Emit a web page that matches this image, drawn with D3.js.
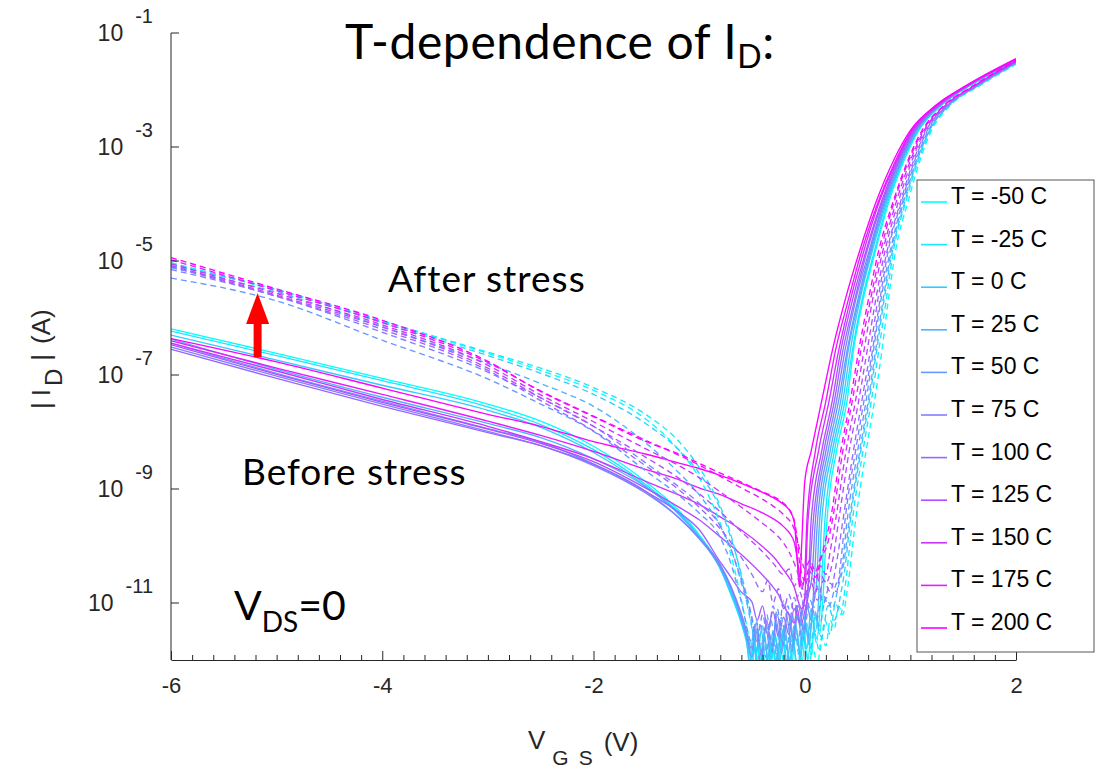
<!DOCTYPE html>
<html>
<head>
<meta charset="utf-8">
<script src="https://cdn.jsdelivr.net/npm/d3@7"></script>
<style>
  body { margin: 0; background: #fff; }
  svg { display: block; }
</style>
</head>
<body>
<svg id="chart" width="1101" height="769"></svg>
<script>
// temperatures (legend order), colours run cyan -> magenta
const temps = [-50, -25, 0, 25, 50, 75, 100, 125, 150, 175, 200];

// each curve: [VGS (V), log10 |ID| (A)]
// before stress (solid)
const beforeM50 = [[-6,-6.19],[-5,-6.62],[-4,-7.06],[-3,-7.51],[-2.5,-7.81],[-2,-8.25],[-1.5,-8.88],[-1.2,-9.36],[-1,-9.80],[-0.8,-10.37],[-0.7,-10.81],[-0.6,-11.30],[-0.55,-11.62],[-0.5,-12.05],[-0.47,-11.70],[-0.43,-12.30],[-0.38,-11.65],[-0.33,-12.20],[-0.28,-11.55],[-0.23,-12.25],[-0.18,-11.75],[-0.13,-12.15],[-0.08,-11.45],[-0.03,-12.10],[0.02,-11.35],[0.06,-11.90],[0.10,-11.20],[0.14,-11.55],[0.17,-10.98],[0.21,-9.57],[0.30,-8.34],[0.40,-7.46],[0.46,-6.58],[0.55,-5.70],[0.67,-4.82],[0.80,-3.94],[0.94,-3.24],[1.08,-2.71],[1.29,-2.27],[1.57,-1.92],[2,-1.50]];
const beforeM25 = [[-6,-6.23],[-5,-6.66],[-4,-7.10],[-3,-7.56],[-2.5,-7.87],[-2,-8.31],[-1.5,-8.93],[-1.2,-9.40],[-1,-9.83],[-0.8,-10.40],[-0.7,-10.85],[-0.6,-11.36],[-0.55,-11.70],[-0.51,-12.10],[-0.48,-11.60],[-0.44,-12.25],[-0.40,-11.80],[-0.36,-12.35],[-0.31,-11.70],[-0.26,-12.15],[-0.21,-11.50],[-0.16,-12.20],[-0.11,-11.65],[-0.06,-12.30],[-0.01,-11.60],[0.03,-12.00],[0.07,-11.30],[0.11,-11.70],[0.15,-10.98],[0.19,-9.57],[0.28,-8.34],[0.38,-7.46],[0.45,-6.58],[0.54,-5.70],[0.66,-4.82],[0.79,-3.94],[0.93,-3.24],[1.07,-2.71],[1.29,-2.27],[1.56,-1.92],[2,-1.50]];
const before0 = [[-6,-6.30],[-5,-6.74],[-4,-7.18],[-3,-7.62],[-2.5,-7.92],[-2,-8.36],[-1.5,-8.96],[-1.2,-9.42],[-1,-9.84],[-0.8,-10.40],[-0.7,-10.82],[-0.6,-11.32],[-0.55,-11.68],[-0.52,-12.10],[-0.49,-11.55],[-0.45,-12.20],[-0.41,-11.70],[-0.37,-12.30],[-0.32,-11.60],[-0.27,-12.10],[-0.22,-11.45],[-0.17,-12.05],[-0.12,-11.50],[-0.07,-12.20],[-0.02,-11.40],[0.02,-11.80],[0.06,-11.10],[0.10,-11.50],[0.13,-10.98],[0.16,-9.57],[0.26,-8.34],[0.36,-7.46],[0.43,-6.58],[0.52,-5.70],[0.64,-4.82],[0.78,-3.94],[0.92,-3.24],[1.07,-2.71],[1.28,-2.27],[1.56,-1.92],[2,-1.49]];
const before25 = [[-6,-6.37],[-5,-6.90],[-4,-7.39],[-3,-7.85],[-2.5,-8.10],[-2,-8.47],[-1.5,-8.97],[-1.2,-9.43],[-1,-9.84],[-0.8,-10.33],[-0.7,-10.72],[-0.6,-11.25],[-0.55,-11.55],[-0.5,-11.95],[-0.46,-11.50],[-0.42,-12.15],[-0.38,-11.55],[-0.34,-12.25],[-0.29,-11.50],[-0.24,-12.05],[-0.19,-11.40],[-0.14,-12.10],[-0.09,-11.35],[-0.04,-11.95],[0.00,-11.30],[0.04,-11.70],[0.08,-11.00],[0.11,-10.70],[0.14,-9.57],[0.24,-8.34],[0.34,-7.46],[0.41,-6.58],[0.51,-5.70],[0.63,-4.82],[0.77,-3.94],[0.92,-3.24],[1.06,-2.71],[1.28,-2.27],[1.56,-1.92],[2,-1.49]];
const before50 = [[-6,-6.44],[-5,-6.97],[-4,-7.46],[-3,-7.94],[-2.5,-8.18],[-2,-8.56],[-1.5,-9.05],[-1.2,-9.49],[-1,-9.87],[-0.8,-10.37],[-0.7,-10.75],[-0.6,-11.28],[-0.55,-11.60],[-0.5,-11.95],[-0.46,-11.45],[-0.42,-12.10],[-0.37,-11.40],[-0.32,-11.95],[-0.27,-11.30],[-0.22,-11.90],[-0.17,-11.25],[-0.12,-11.85],[-0.07,-11.20],[-0.02,-11.70],[0.02,-11.05],[0.06,-11.30],[0.09,-10.60],[0.12,-9.57],[0.22,-8.34],[0.32,-7.46],[0.40,-6.58],[0.50,-5.70],[0.62,-4.82],[0.76,-3.94],[0.91,-3.24],[1.05,-2.71],[1.28,-2.27],[1.55,-1.92],[2,-1.48]];
const before75 = [[-6,-6.51],[-5,-7.02],[-4,-7.51],[-3,-7.99],[-2.5,-8.24],[-2,-8.59],[-1.5,-9.08],[-1.2,-9.49],[-1,-9.86],[-0.8,-10.33],[-0.7,-10.70],[-0.6,-11.19],[-0.55,-11.50],[-0.5,-11.83],[-0.46,-11.35],[-0.41,-11.95],[-0.36,-11.30],[-0.31,-11.85],[-0.26,-11.20],[-0.21,-11.75],[-0.16,-11.15],[-0.11,-11.65],[-0.06,-11.05],[-0.01,-11.45],[0.03,-10.90],[0.07,-10.50],[0.10,-9.57],[0.20,-8.34],[0.30,-7.46],[0.38,-6.58],[0.48,-5.70],[0.61,-4.82],[0.75,-3.94],[0.90,-3.24],[1.05,-2.71],[1.27,-2.27],[1.55,-1.92],[2,-1.48]];
const before100 = [[-6,-6.55],[-5,-7.06],[-4,-7.55],[-3,-8.01],[-2.5,-8.24],[-2,-8.57],[-1.5,-9.05],[-1.2,-9.40],[-1,-9.71],[-0.8,-10.28],[-0.7,-10.54],[-0.6,-10.81],[-0.5,-10.98],[-0.45,-11.30],[-0.4,-11.05],[-0.35,-11.45],[-0.3,-11.15],[-0.25,-11.60],[-0.2,-11.25],[-0.15,-11.55],[-0.1,-11.10],[-0.05,-11.35],[0,-10.95],[0.04,-10.60],[0.08,-9.57],[0.18,-8.34],[0.28,-7.46],[0.36,-6.58],[0.47,-5.70],[0.59,-4.82],[0.74,-3.94],[0.89,-3.24],[1.04,-2.71],[1.27,-2.27],[1.55,-1.92],[2,-1.48]];
const before125 = [[-6,-6.47],[-5,-6.99],[-4,-7.48],[-3,-7.95],[-2.5,-8.20],[-2,-8.52],[-1.5,-8.99],[-1.2,-9.31],[-1,-9.54],[-0.8,-9.84],[-0.6,-10.15],[-0.4,-10.51],[-0.3,-10.72],[-0.25,-10.85],[-0.2,-11.05],[-0.15,-11.20],[-0.1,-11.35],[-0.07,-11.10],[-0.04,-11.40],[0,-11.15],[0.03,-10.80],[0.06,-9.57],[0.16,-8.34],[0.26,-7.46],[0.34,-6.58],[0.45,-5.70],[0.58,-4.82],[0.73,-3.94],[0.88,-3.24],[1.03,-2.71],[1.26,-2.27],[1.54,-1.92],[2,-1.47]];
const before150 = [[-6,-6.44],[-5,-6.93],[-4,-7.43],[-3,-7.90],[-2.5,-8.17],[-2,-8.47],[-1.5,-8.87],[-1.2,-9.10],[-1,-9.27],[-0.8,-9.49],[-0.6,-9.72],[-0.4,-10.01],[-0.3,-10.18],[-0.2,-10.42],[-0.15,-10.55],[-0.1,-10.72],[-0.06,-10.98],[-0.03,-11.10],[0,-10.90],[0.03,-9.57],[0.13,-8.34],[0.23,-7.46],[0.32,-6.58],[0.43,-5.70],[0.56,-4.82],[0.71,-3.94],[0.87,-3.24],[1.02,-2.71],[1.25,-2.27],[1.54,-1.92],[2,-1.47]];
const before175 = [[-6,-6.40],[-5,-6.88],[-4,-7.34],[-3,-7.81],[-2.5,-8.06],[-2,-8.34],[-1.5,-8.66],[-1.2,-8.83],[-1,-8.98],[-0.8,-9.10],[-0.6,-9.26],[-0.4,-9.42],[-0.3,-9.52],[-0.2,-9.66],[-0.1,-9.93],[-0.06,-10.37],[-0.03,-10.75],[0,-10.50],[0.02,-9.57],[0.10,-8.34],[0.20,-7.46],[0.29,-6.58],[0.41,-5.70],[0.54,-4.82],[0.70,-3.94],[0.86,-3.24],[1.01,-2.71],[1.25,-2.27],[1.54,-1.92],[2,-1.46]];
const before200 = [[-6,-6.36],[-5,-6.77],[-4,-7.23],[-3,-7.69],[-2.5,-7.90],[-2,-8.17],[-1.5,-8.39],[-1.2,-8.54],[-1,-8.64],[-0.8,-8.76],[-0.6,-8.90],[-0.4,-9.06],[-0.3,-9.15],[-0.2,-9.27],[-0.15,-9.36],[-0.1,-9.57],[-0.07,-10.28],[-0.05,-10.72],[-0.03,-10.01],[0,-8.87],[0.06,-8.34],[0.16,-7.46],[0.26,-6.58],[0.38,-5.70],[0.52,-4.82],[0.68,-3.94],[0.84,-3.24],[1.00,-2.71],[1.24,-2.27],[1.53,-1.92],[2,-1.45]];

// after stress (dashed)
const afterM50 = [[-6,-5.03],[-5,-5.52],[-4,-6.06],[-3,-6.62],[-2.5,-6.92],[-2,-7.27],[-1.5,-7.78],[-1.2,-8.30],[-1,-8.80],[-0.8,-9.60],[-0.7,-10.15],[-0.6,-10.95],[-0.55,-11.40],[-0.5,-11.85],[-0.46,-12.20],[-0.42,-11.75],[-0.37,-12.30],[-0.32,-11.85],[-0.27,-12.40],[-0.22,-11.90],[-0.17,-12.35],[-0.12,-12.00],[-0.07,-12.40],[-0.02,-11.95],[0.03,-12.30],[0.08,-11.80],[0.12,-12.10],[0.16,-11.60],[0.20,-11.75],[0.24,-11.30],[0.28,-11.45],[0.32,-11.05],[0.36,-11.20],[0.40,-10.81],[0.48,-9.57],[0.58,-8.34],[0.66,-7.46],[0.73,-6.58],[0.79,-5.70],[0.86,-4.82],[0.98,-3.94],[1.09,-3.24],[1.20,-2.71],[1.38,-2.27],[1.66,-1.92],[2,-1.55]];
const afterM25 = [[-6,-5.05],[-5,-5.50],[-4,-6.05],[-3,-6.60],[-2.5,-6.88],[-2,-7.22],[-1.5,-7.70],[-1.2,-8.15],[-1,-8.62],[-0.8,-9.30],[-0.7,-9.80],[-0.6,-10.55],[-0.5,-11.45],[-0.45,-11.95],[-0.41,-11.50],[-0.36,-12.25],[-0.31,-11.70],[-0.26,-12.20],[-0.21,-11.60],[-0.16,-12.30],[-0.11,-11.80],[-0.06,-12.20],[-0.01,-11.55],[0.04,-12.10],[0.09,-11.50],[0.14,-11.85],[0.19,-11.30],[0.24,-11.55],[0.29,-11.00],[0.34,-11.20],[0.39,-10.60],[0.45,-9.57],[0.55,-8.34],[0.63,-7.46],[0.70,-6.58],[0.77,-5.70],[0.84,-4.82],[0.96,-3.94],[1.075,-3.24],[1.19,-2.71],[1.37,-2.27],[1.65,-1.92],[2,-1.54]];
const after0 = [[-6,-5.08],[-5,-5.50],[-4,-6.08],[-3,-6.66],[-2.5,-6.97],[-2,-7.34],[-1.5,-7.86],[-1.2,-8.30],[-1,-8.72],[-0.8,-9.35],[-0.7,-9.85],[-0.6,-10.50],[-0.5,-11.30],[-0.45,-11.85],[-0.40,-11.40],[-0.35,-12.10],[-0.30,-11.50],[-0.25,-12.15],[-0.20,-11.45],[-0.15,-12.05],[-0.10,-11.40],[-0.05,-11.95],[0.00,-11.35],[0.05,-11.80],[0.10,-11.25],[0.16,-11.60],[0.22,-11.05],[0.28,-11.30],[0.34,-10.85],[0.38,-10.40],[0.43,-9.57],[0.53,-8.34],[0.61,-7.46],[0.68,-6.58],[0.75,-5.70],[0.83,-4.82],[0.95,-3.94],[1.065,-3.24],[1.18,-2.71],[1.37,-2.27],[1.65,-1.92],[2,-1.53]];
const after25 = [[-6,-5.12],[-5,-5.55],[-4,-6.15],[-3,-6.80],[-2.5,-7.15],[-2,-7.55],[-1.5,-8.20],[-1.2,-8.70],[-1,-9.10],[-0.8,-9.65],[-0.7,-10.05],[-0.6,-10.65],[-0.5,-11.40],[-0.46,-11.90],[-0.42,-11.35],[-0.37,-11.95],[-0.32,-11.30],[-0.27,-11.90],[-0.22,-11.25],[-0.17,-11.80],[-0.12,-11.20],[-0.07,-11.75],[-0.02,-11.15],[0.03,-11.60],[0.08,-11.05],[0.14,-11.40],[0.20,-10.90],[0.26,-11.10],[0.32,-10.70],[0.37,-10.30],[0.42,-9.57],[0.52,-8.34],[0.60,-7.46],[0.67,-6.58],[0.74,-5.70],[0.82,-4.82],[0.94,-3.94],[1.06,-3.24],[1.18,-2.71],[1.36,-2.27],[1.64,-1.92],[2,-1.53]];
const after50 = [[-6,-5.30],[-5,-5.70],[-4,-6.39],[-3,-7.07],[-2.5,-7.51],[-2,-7.99],[-1.5,-8.69],[-1.2,-9.10],[-1,-9.42],[-0.8,-9.85],[-0.7,-10.30],[-0.6,-10.98],[-0.5,-11.69],[-0.46,-11.30],[-0.41,-11.85],[-0.36,-11.20],[-0.31,-11.75],[-0.26,-11.10],[-0.21,-11.70],[-0.16,-11.05],[-0.11,-11.60],[-0.06,-11.00],[-0.01,-11.50],[0.05,-10.95],[0.11,-11.30],[0.17,-10.85],[0.23,-11.05],[0.29,-10.70],[0.35,-10.40],[0.40,-9.57],[0.50,-8.34],[0.58,-7.46],[0.65,-6.58],[0.72,-5.70],[0.81,-4.82],[0.93,-3.94],[1.05,-3.24],[1.17,-2.71],[1.36,-2.27],[1.64,-1.92],[2,-1.52]];
const after75 = [[-6,-5.15],[-5,-5.62],[-4,-6.25],[-3,-6.95],[-2.5,-7.40],[-2,-7.90],[-1.5,-8.55],[-1.2,-8.95],[-1,-9.25],[-0.8,-9.65],[-0.7,-10.05],[-0.6,-10.60],[-0.5,-11.25],[-0.45,-11.70],[-0.40,-11.20],[-0.35,-11.60],[-0.30,-11.05],[-0.25,-11.55],[-0.20,-10.95],[-0.15,-11.40],[-0.10,-10.90],[-0.05,-11.30],[0.00,-10.85],[0.06,-11.15],[0.12,-10.75],[0.18,-11.00],[0.24,-10.65],[0.30,-10.80],[0.34,-10.30],[0.38,-9.57],[0.48,-8.34],[0.56,-7.46],[0.64,-6.58],[0.71,-5.70],[0.79,-4.82],[0.92,-3.94],[1.04,-3.24],[1.16,-2.71],[1.35,-2.27],[1.63,-1.92],[2,-1.52]];
const after100 = [[-6,-5.10],[-5,-5.62],[-4,-6.20],[-3,-6.92],[-2.5,-7.45],[-2,-7.98],[-1.5,-8.60],[-1.2,-9.00],[-1,-9.32],[-0.8,-9.70],[-0.6,-10.20],[-0.5,-10.50],[-0.4,-10.80],[-0.35,-10.60],[-0.3,-11.00],[-0.25,-10.75],[-0.2,-11.10],[-0.15,-10.85],[-0.1,-11.15],[-0.05,-10.80],[0,-11.05],[0.06,-10.70],[0.12,-10.95],[0.18,-10.60],[0.24,-10.80],[0.30,-10.30],[0.36,-9.57],[0.46,-8.34],[0.54,-7.46],[0.62,-6.58],[0.69,-5.70],[0.78,-4.82],[0.91,-3.94],[1.03,-3.24],[1.15,-2.71],[1.35,-2.27],[1.63,-1.92],[2,-1.51]];
const after125 = [[-6,-5.08],[-5,-5.60],[-4,-6.16],[-3,-6.88],[-2.5,-7.40],[-2,-7.90],[-1.5,-8.45],[-1.2,-8.80],[-1,-9.08],[-0.8,-9.40],[-0.6,-9.75],[-0.4,-10.10],[-0.3,-10.30],[-0.2,-10.50],[-0.15,-10.40],[-0.1,-10.70],[-0.05,-10.55],[0,-10.85],[0.05,-10.60],[0.10,-10.80],[0.15,-10.50],[0.20,-10.65],[0.26,-10.30],[0.32,-9.57],[0.42,-8.34],[0.51,-7.46],[0.59,-6.58],[0.67,-5.70],[0.76,-4.82],[0.89,-3.94],[1.015,-3.24],[1.14,-2.71],[1.34,-2.27],[1.62,-1.92],[2,-1.50]];
const after150 = [[-6,-5.05],[-5,-5.57],[-4,-6.12],[-3,-6.83],[-2.5,-7.35],[-2,-7.82],[-1.5,-8.30],[-1.2,-8.58],[-1,-8.80],[-0.8,-9.05],[-0.6,-9.32],[-0.4,-9.60],[-0.3,-9.75],[-0.2,-9.95],[-0.15,-10.10],[-0.1,-10.30],[-0.05,-10.55],[0,-10.70],[0.05,-10.45],[0.10,-10.65],[0.15,-10.35],[0.20,-10.50],[0.24,-10.10],[0.29,-9.57],[0.39,-8.34],[0.48,-7.46],[0.56,-6.58],[0.64,-5.70],[0.74,-4.82],[0.87,-3.94],[1.00,-3.24],[1.13,-2.71],[1.33,-2.27],[1.61,-1.92],[2,-1.50]];
const after175 = [[-6,-4.98],[-5,-5.52],[-4,-6.08],[-3,-6.78],[-2.5,-7.28],[-2,-7.72],[-1.5,-8.15],[-1.2,-8.40],[-1,-8.58],[-0.8,-8.78],[-0.6,-8.98],[-0.4,-9.18],[-0.3,-9.30],[-0.2,-9.45],[-0.1,-9.70],[-0.05,-10.05],[0,-10.40],[0.05,-10.25],[0.10,-10.45],[0.15,-10.20],[0.21,-10.00],[0.26,-9.57],[0.36,-8.34],[0.45,-7.46],[0.53,-6.58],[0.62,-5.70],[0.72,-4.82],[0.85,-3.94],[0.985,-3.24],[1.12,-2.71],[1.32,-2.27],[1.61,-1.92],[2,-1.49]];
const after200 = [[-6,-4.94],[-5,-5.49],[-4,-6.04],[-3,-6.76],[-2.5,-7.29],[-2,-7.73],[-1.5,-8.17],[-1.2,-8.38],[-1,-8.55],[-0.8,-8.72],[-0.6,-8.88],[-0.4,-9.05],[-0.3,-9.13],[-0.2,-9.25],[-0.15,-9.35],[-0.1,-9.55],[-0.07,-9.90],[-0.05,-10.28],[0,-10.60],[0.05,-10.35],[0.10,-10.55],[0.15,-10.25],[0.19,-9.95],[0.24,-9.57],[0.34,-8.34],[0.43,-7.46],[0.51,-6.58],[0.60,-5.70],[0.70,-4.82],[0.84,-3.94],[0.975,-3.24],[1.11,-2.71],[1.32,-2.27],[1.60,-1.92],[2,-1.48]];

const beforeCurves = [beforeM50, beforeM25, before0, before25, before50, before75, before100, before125, before150, before175, before200];
const afterCurves = [afterM50, afterM25, after0, after25, after50, after75, after100, after125, after150, after175, after200];

// axis ticks
const xMajorTicks = [-6, -4, -2, 0, 2];
const xMinorTicks = [-5.8,-5.6,-5.4,-5.2,-5,-4.8,-4.6,-4.4,-4.2,-3.8,-3.6,-3.4,-3.2,-3,-2.8,-2.6,-2.4,-2.2,-1.8,-1.6,-1.4,-1.2,-1,-0.8,-0.6,-0.4,-0.2,0.2,0.4,0.6,0.8,1,1.2,1.4,1.6,1.8];
const yTickExponents = [-1, -3, -5, -7, -9, -11];

// red arrow: VGS position and log10 current from/to
const arrowV = -5.18;
const arrowFrom = -6.69;
const arrowTo = -5.56;

const axisColor = '#262626';
const plotLeft = 171, plotRight = 1016, plotTop = 33, plotBottom = 660;

const svg = d3.select('#chart');

const x = d3.scaleLinear().domain([-6, 2]).range([plotLeft, plotRight]);
const y = d3.scaleLog().domain([1e-12, 1e-1]).range([plotBottom, plotTop]);
const color = d3.interpolateRgb('#00ffff', '#ff00ff');

svg.append('defs').append('clipPath')
    .attr('id', 'plotClip')
    .append('rect')
    .attr('x', plotLeft).attr('y', plotTop)
    .attr('width', plotRight - plotLeft).attr('height', plotBottom - plotTop);

const line = d3.line()
    .curve(d3.curveMonotoneX)
    .x(function (d) { return x(d[0]); })
    .y(function (d) { return y(Math.pow(10, d[1])); });

const plot = svg.append('g').attr('clip-path', 'url(#plotClip)');

// solid curves first, dashed on top
plot.selectAll('.before')
    .data(beforeCurves)
    .enter()
    .append('path')
    .attr('class', 'before')
    .attr('d', line)
    .attr('fill', 'none')
    .attr('stroke', function (d, i) { return color(i / 10); })
    .attr('stroke-width', 1.35)
    .attr('stroke-linejoin', 'round');

plot.selectAll('.after')
    .data(afterCurves)
    .enter()
    .append('path')
    .attr('class', 'after')
    .attr('d', line)
    .attr('fill', 'none')
    .attr('stroke', function (d, i) { return color(i / 10); })
    .attr('stroke-width', 1.35)
    .attr('stroke-dasharray', '6,4');

// x axis (ticks point inward)
const xMinor = svg.append('g')
    .attr('transform', `translate(0,${plotBottom})`)
    .call(d3.axisBottom(x).tickValues(xMinorTicks).tickSize(-5).tickFormat(''));
xMinor.select('.domain').remove();
xMinor.selectAll('line').attr('stroke', axisColor);

const xAxis = svg.append('g')
    .attr('transform', `translate(0,${plotBottom})`)
    .call(d3.axisBottom(x).tickValues(xMajorTicks).tickSizeInner(-9).tickSizeOuter(0).tickPadding(17)
        .tickFormat(function (d) { return String(d); }));
xAxis.select('.domain').attr('stroke', axisColor);
xAxis.selectAll('line').attr('stroke', axisColor);
xAxis.selectAll('text')
    .attr('fill', axisColor)
    .style('font', '22px "Liberation Sans", Arial, sans-serif');

// y axis with 10^n labels
svg.append('line')
    .attr('x1', plotLeft).attr('x2', plotLeft)
    .attr('y1', plotTop).attr('y2', plotBottom)
    .attr('stroke', axisColor);

const yTick = svg.append('g')
    .selectAll('g')
    .data(yTickExponents)
    .enter()
    .append('g')
    .attr('transform', function (d) { return `translate(0,${y(Math.pow(10, d))})`; });

yTick.append('line')
    .attr('x1', plotLeft).attr('x2', plotLeft + 8)
    .attr('stroke', axisColor);

const yLabel = yTick.append('text')
    .attr('x', 153)
    .attr('y', 8)
    .attr('text-anchor', 'end')
    .attr('fill', axisColor)
    .style('font-family', '"Liberation Sans", Arial, sans-serif')
    .style('font-size', '23px');
yLabel.append('tspan').text('10');
yLabel.append('tspan')
    .attr('dx', 12)
    .attr('dy', -18)
    .style('font-size', '20px')
    .text(function (d) { return d; });

// axis titles
const xTitle = svg.append('text')
    .attr('x', 528).attr('y', 749)
    .attr('fill', axisColor)
    .style('font-family', '"Liberation Sans", Arial, sans-serif')
    .style('font-size', '26px');
xTitle.append('tspan').text('V');
xTitle.append('tspan').attr('dx', 7).attr('dy', 16).style('font-size', '21px').text('G');
xTitle.append('tspan').attr('dx', 10).style('font-size', '21px').text('S');
xTitle.append('tspan').attr('dx', 11).attr('dy', -14).text('(V)');

const yTitle = svg.append('text')
    .attr('transform', 'translate(50,409) rotate(-90)')
    .attr('fill', axisColor)
    .style('font-family', '"Liberation Sans", Arial, sans-serif')
    .style('font-size', '26px');
yTitle.append('tspan').text('|');
yTitle.append('tspan').attr('dx', 6).text('I');
yTitle.append('tspan').attr('dx', 3).attr('dy', 12).style('font-size', '24px').text('D');
yTitle.append('tspan').attr('dx', 8).attr('dy', -12).text('|');
yTitle.append('tspan').attr('dx', 10).text('(A)');

// legend
const legendTop = 180, legendStep = 42.6;
svg.append('rect')
    .attr('x', 917).attr('y', legendTop)
    .attr('width', 177).attr('height', 472)
    .attr('fill', '#fff')
    .attr('stroke', '#555')
    .attr('stroke-width', 1);

const legendItem = svg.append('g')
    .selectAll('g')
    .data(temps)
    .enter()
    .append('g')
    .attr('transform', function (d, i) { return `translate(0,${legendTop + 22 + i * legendStep})`; });

legendItem.append('line')
    .attr('x1', 921).attr('x2', 947)
    .attr('stroke', function (d, i) { return color(i / 10); })
    .attr('stroke-width', 1.6);

legendItem.append('text')
    .attr('x', 951).attr('y', 2)
    .attr('fill', '#000')
    .style('font', '23px "Liberation Sans", Arial, sans-serif')
    .text(function (d) { return `T = ${d} C`; });

// annotations
const annoFont = 'Lato, "Open Sans", sans-serif';

const title = svg.append('text')
    .attr('x', 345).attr('y', 59)
    .attr('fill', '#000')
    .style('font-family', annoFont)
    .style('font-size', '48px')
    .style('letter-spacing', '0.6px');
title.append('tspan').text('T-dependence of I');
title.append('tspan').attr('dy', 9).style('font-size', '32px').text('D');
title.append('tspan').attr('dy', -9).text(':');

svg.append('text')
    .attr('x', 388).attr('y', 292)
    .attr('fill', '#000')
    .style('font-family', annoFont)
    .style('font-size', '37px')
    .style('letter-spacing', '1px')
    .text('After stress');

svg.append('text')
    .attr('x', 242).attr('y', 485)
    .attr('fill', '#000')
    .style('font-family', annoFont)
    .style('font-size', '37px')
    .style('letter-spacing', '1px')
    .text('Before stress');

const vds = svg.append('text')
    .attr('x', 234).attr('y', 620)
    .attr('fill', '#000')
    .style('font-family', annoFont)
    .style('font-size', '41px');
vds.append('tspan').text('V');
vds.append('tspan').attr('dy', 12).style('font-size', '28px').text('DS');
vds.append('tspan').attr('dy', -12).text('=0');

// red arrow
const ax = x(arrowV), ay0 = y(Math.pow(10, arrowFrom)), ay1 = y(Math.pow(10, arrowTo));
const headLen = 31, headHalf = 11.5, shaftHalf = 4;
svg.append('path')
    .attr('d', `M${ax - shaftHalf},${ay0} L${ax - shaftHalf},${ay1 + headLen} L${ax - headHalf},${ay1 + headLen}
        L${ax},${ay1} L${ax + headHalf},${ay1 + headLen} L${ax + shaftHalf},${ay1 + headLen} L${ax + shaftHalf},${ay0} Z`)
    .attr('fill', '#ff0000');
</script>
</body>
</html>
